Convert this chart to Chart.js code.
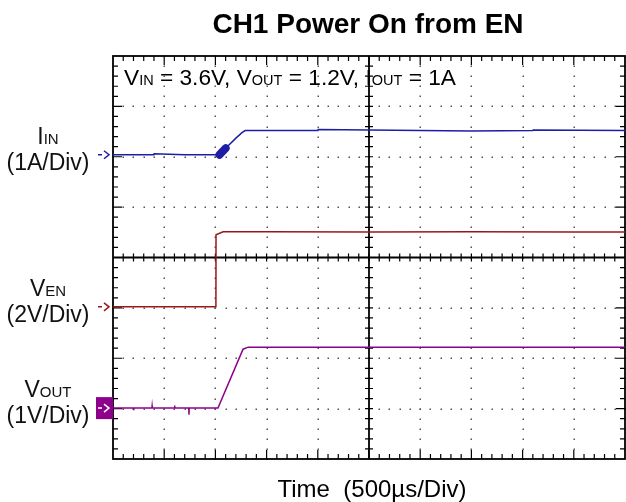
<!DOCTYPE html>
<html>
<head>
<meta charset="utf-8">
<script src="https://cdn.jsdelivr.net/npm/chart.js@4.4.1/dist/chart.umd.min.js"></script>
<style>
  html, body { margin: 0; padding: 0; background: #fff; }
  #wrap { width: 626px; height: 502px; }
</style>
</head>
<body>
<div id="wrap"><canvas id="scope" width="626" height="502"></canvas></div>
<script>
// ===============================
// Scope data (time in µs, values in A / V)
// ===============================
const timeIin = [0, 400, 402, 700, 1000, 1040, 1100, 1120, 1200, 1260, 1290, 2000, 2003, 3000, 3500, 4100, 4103, 5000];
const iinAmps = [0, 0, 0.02, 0, 0, 0.0, 0.13, 0.17, 0.33, 0.44, 0.48, 0.48, 0.5, 0.48, 0.47, 0.48, 0.49, 0.48];

// the thick burst on I_IN right after EN goes high
const timeBurst = [1040, 1100];
const iinBurst = [0.0, 0.13];

const timeVen = [0, 1005, 1006, 1075, 1500, 2500, 3500, 4500, 5000];
const venVolts = [0, 0, 2.86, 2.98, 2.98, 2.97, 2.98, 2.97, 2.97];

const timeVout = [0, 200, 202, 204, 380, 382, 384, 600, 602, 604, 740, 742, 744, 1000, 1025, 1270, 1320, 2000, 3000, 4000, 5000];
const voutVolts = [0, 0, -0.04, 0, 0, 0.04, 0, 0, 0.05, 0, 0, -0.13, 0, 0, 0, 1.17, 1.21, 1.21, 1.21, 1.21, 1.21];

// channel settings: zero level (div) and scale (units per div)
const channels = [
  { name: "I", sub: "IN", unit: "(1A/Div)", offset: 6.04, perDiv: 1, color: "rgb(30,30,165)", t: timeIin, v: iinAmps },
  { name: "V", sub: "EN", unit: "(2V/Div)", offset: 3.02, perDiv: 2, color: "rgb(150,25,25)", t: timeVen, v: venVolts },
  { name: "V", sub: "OUT", unit: "(1V/Div)", offset: 1.01, perDiv: 1, color: "rgb(140,0,140)", t: timeVout, v: voutVolts, boxed: true }
];

const titleText = "CH1 Power On from EN";
const xLabel = "Time  (500\u00b5s/Div)";
const noteRuns = [["V", 22.7], ["IN", 14.5], [" = 3.6V, V", 22.7], ["OUT", 14.5], [" = 1.2V, I", 22.7], ["OUT", 14.5], [" = 1A", 22.7]];

const FONT = "'Liberation Sans', Arial, sans-serif";

// draw a run of mixed-size text on one baseline
function drawRuns(ctx, x, y, runs, align) {
  let w = 0;
  runs.forEach(r => { ctx.font = r[1] + "px " + FONT; w += ctx.measureText(r[0]).width; });
  let cx = align === "center" ? x - w / 2 : x;
  ctx.textAlign = "left";
  runs.forEach(r => {
    ctx.font = r[1] + "px " + FONT;
    ctx.fillText(r[0], cx, y);
    cx += ctx.measureText(r[0]).width;
  });
}

// ===============================
// Scope graticule + labels plugin
// ===============================
const scopePlugin = {
  id: "scope",
  beforeDatasetsDraw(chart) {
    const { ctx, chartArea: a, scales: { x, y } } = chart;
    const px = d => x.getPixelForValue(d * 500);
    const py = d => y.getPixelForValue(d);
    ctx.save();

    // dotted grid
    ctx.fillStyle = "#555";
    for (let i = 1; i < 10; i++) {
      if (i === 5) continue;
      for (let k = 0; k <= 40; k++) ctx.fillRect(Math.round(px(i)) - 0.5, Math.round(py(k * 0.2)) - 0.5, 1.5, 1.5);
    }
    for (let j = 1; j < 8; j++) {
      if (j === 4) continue;
      for (let k = 0; k <= 50; k++) ctx.fillRect(Math.round(px(k * 0.2)) - 0.5, Math.round(py(j)) - 0.5, 1.5, 1.5);
    }

    ctx.strokeStyle = "#000";
    // center cross
    ctx.lineWidth = 1.8;
    ctx.beginPath();
    ctx.moveTo(px(5), a.top); ctx.lineTo(px(5), a.bottom);
    ctx.moveTo(a.left, py(4)); ctx.lineTo(a.right, py(4));
    ctx.stroke();
    ctx.lineWidth = 1.2;
    ctx.beginPath();
    for (let k = 1; k < 50; k++) { const xx = px(k * 0.2); ctx.moveTo(xx, py(4) - 4); ctx.lineTo(xx, py(4) + 4); }
    for (let k = 1; k < 40; k++) { const yy = py(k * 0.2); ctx.moveTo(px(5) - 4, yy); ctx.lineTo(px(5) + 4, yy); }
    ctx.stroke();

    // border + inward ticks
    ctx.lineWidth = 1.8;
    ctx.strokeRect(a.left, a.top, a.right - a.left, a.bottom - a.top);
    ctx.lineWidth = 1.2;
    ctx.beginPath();
    for (let k = 1; k < 50; k++) {
      const len = k % 5 === 0 ? 9 : 5, xx = px(k * 0.2);
      ctx.moveTo(xx, a.top); ctx.lineTo(xx, a.top + len);
      ctx.moveTo(xx, a.bottom); ctx.lineTo(xx, a.bottom - len);
    }
    for (let k = 1; k < 40; k++) {
      const len = k % 5 === 0 ? 9 : 5, yy = py(k * 0.2);
      ctx.moveTo(a.left, yy); ctx.lineTo(a.left + len, yy);
      ctx.moveTo(a.right, yy); ctx.lineTo(a.right - len, yy);
    }
    ctx.stroke();
    ctx.restore();
  },
  afterDraw(chart) {
    const { ctx, chartArea: a, scales: { y } } = chart;
    ctx.save();
    ctx.fillStyle = "#000";
    ctx.textBaseline = "alphabetic";

    // title + x label
    ctx.textAlign = "center";
    ctx.font = "bold 28px " + FONT;
    ctx.fillText(titleText, 368, 33);
    ctx.font = "24px " + FONT;
    ctx.fillText(xLabel, 372, 497);

    // condition note
    drawRuns(ctx, 124, 85, noteRuns, "left");

    // channel labels and markers
    channels.forEach(ch => {
      const yy = y.getPixelForValue(ch.offset);
      ctx.fillStyle = "#111";
      drawRuns(ctx, 48, yy - 11, [[ch.name, 23], [ch.sub, 15]], "center");
      ctx.textAlign = "center";
      ctx.font = "23px " + FONT;
      ctx.fillText(ch.unit, 48, yy + 15);

      let col = ch.color;
      if (ch.boxed) {
        ctx.fillStyle = ch.color;
        ctx.fillRect(96, yy - 11, a.left - 96, 22);
        col = "#fff";
      }
      ctx.strokeStyle = col;
      ctx.lineWidth = 1.5;
      ctx.beginPath();
      ctx.moveTo(98, yy); ctx.lineTo(102, yy);
      ctx.moveTo(104, yy - 4); ctx.lineTo(109, yy); ctx.lineTo(104, yy + 4);
      ctx.stroke();
    });
    ctx.restore();
  }
};

const datasets = channels.map(ch => ({
  label: ch.name + ch.sub,
  data: ch.t.map((t, i) => ({ x: t, y: ch.offset + ch.v[i] / ch.perDiv })),
  borderColor: ch.color,
  borderWidth: 1.5,
  pointRadius: 0,
  tension: 0,
  fill: false
}));

// burst drawn as a short thick stroke on the I_IN channel
datasets.push({
  label: "IIN burst",
  data: timeBurst.map((t, i) => ({ x: t, y: channels[0].offset + iinBurst[i] / channels[0].perDiv })),
  borderColor: channels[0].color,
  borderWidth: 8,
  borderCapStyle: "round",
  pointRadius: 0,
  fill: false
});

new Chart(document.getElementById("scope"), {
  type: "line",
  data: { datasets },
  options: {
    responsive: false,
    animation: false,
    devicePixelRatio: 1,
    layout: { padding: { left: 113, right: 1, top: 56, bottom: 43 } },
    plugins: { legend: { display: false }, tooltip: { enabled: false } },
    scales: {
      x: { type: "linear", min: 0, max: 5000, display: false },
      y: { type: "linear", min: 0, max: 8, display: false }
    }
  },
  plugins: [scopePlugin]
});
</script>
</body>
</html>
